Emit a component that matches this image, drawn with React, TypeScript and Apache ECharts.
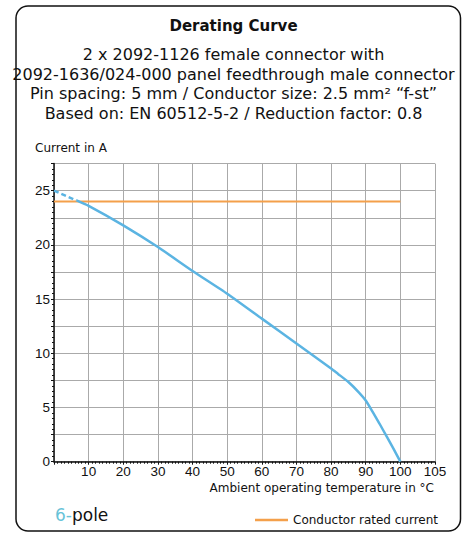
import React, { useEffect, useRef } from "react";
import * as echarts from "echarts";

const titleText = "Derating Curve";
const subtitleLines = [
  "2 x 2092-1126 female connector with",
  "2092-1636/024-000 panel feedthrough male connector",
  "Pin spacing: 5 mm / Conductor size: 2.5 mm² “f-st”",
  "Based on: EN 60512-5-2 / Reduction factor: 0.8",
];
const yAxisName = "Current in A";
const xAxisName = "Ambient operating temperature in °C";
const ratedName = "Conductor rated current";
const poleCount = "6";
// last x tick sits one full interval after 100 but is labelled 105
const xLastTickPos = 110;
const xLastTickLabel = "105";

const ratedCurrent: [number, number][] = [
  [0, 24],
  [100, 24],
];
const curveDashed: [number, number][] = [
  [0, 25],
  [6.5, 24.1],
];
const curveSolid: [number, number][] = [
  [6.5, 24.1],
  [10, 23.6],
  [20, 21.8],
  [30, 19.8],
  [40, 17.6],
  [50, 15.5],
  [60, 13.2],
  [70, 10.9],
  [80, 8.6],
  [82, 8.1],
  [85, 7.35],
  [88, 6.4],
  [90, 5.65],
  [92, 4.6],
  [94, 3.5],
  [96, 2.35],
  [98, 1.2],
  [100, 0],
];

const FONT = "DejaVu Sans";
const TICK_FONT = "Liberation Sans";
const BLUE = "#5BB4E2";
const ORANGE = "#F4A04B";

export default function App() {
  const ref = useRef<HTMLDivElement>(null);
  useEffect(() => {
    document.body.style.margin = "0";
    const chart = echarts.init(ref.current!, null, { renderer: "svg" });
    chart.setOption({
      animation: false,
      backgroundColor: "#fff",
      title: {
        text: titleText,
        subtext: subtitleLines.join("\n"),
        left: "center",
        top: 13.5,
        itemGap: 11,
        textStyle: { fontFamily: FONT, fontSize: 15, fontWeight: "bold", color: "#111" },
        subtextStyle: { fontFamily: FONT, fontSize: 16, color: "#111", lineHeight: 19.7, align: "center" },
      },
      grid: { left: 54, right: 32, top: 163.6, bottom: 71.3, containLabel: false },
      legend: {
        data: [{ name: ratedName, icon: "rect" }],
        left: 250,
        top: 509,
        itemWidth: 33,
        itemHeight: 2.5,
        itemGap: 6,
        textStyle: { fontFamily: FONT, fontSize: 12, color: "#111" },
      },
      xAxis: {
        type: "value",
        min: 0,
        max: xLastTickPos,
        interval: 10,
        axisLine: { show: true, lineStyle: { color: "#111", width: 1.5 } },
        axisTick: { show: true, length: 3, lineStyle: { color: "#111" } },
        minorTick: { show: true, splitNumber: 10, length: 2, lineStyle: { color: "#111" } },
        axisLabel: {
          fontFamily: TICK_FONT,
          fontSize: 13.5,
          color: "#111",
          margin: 3,
          formatter: (v: number) => (v === 0 ? "" : v === xLastTickPos ? xLastTickLabel : String(v)),
        },
        splitLine: { show: true, lineStyle: { color: "#aaa", width: 1 } },
      },
      yAxis: {
        type: "value",
        min: 0,
        max: 27.5,
        interval: 2.5,
        axisLine: { show: true, lineStyle: { color: "#111", width: 1.5 } },
        axisTick: { show: true, length: 3, lineStyle: { color: "#111" } },
        minorTick: { show: true, splitNumber: 5, length: 2, lineStyle: { color: "#111" } },
        axisLabel: {
          fontFamily: TICK_FONT,
          fontSize: 13.5,
          color: "#111",
          margin: 4,
          formatter: (v: number) => (v % 5 === 0 ? String(v) : ""),
        },
        splitLine: { show: true, lineStyle: { color: "#aaa", width: 1 } },
      },
      graphic: [
        {
          type: "rect",
          shape: { x: 16, y: 6, width: 444.5, height: 525, r: 12 },
          style: { fill: "none", stroke: "#111", lineWidth: 1.5 },
          z: -1,
        },
        {
          type: "text",
          x: 35,
          y: 148,
          style: { text: yAxisName, fontFamily: FONT, fontSize: 12, fill: "#111", textAlign: "left", textVerticalAlign: "middle" },
        },
        {
          type: "text",
          x: 434,
          y: 488,
          style: { text: xAxisName, fontFamily: FONT, fontSize: 12, fill: "#111", textAlign: "right", textVerticalAlign: "middle" },
        },
        {
          type: "text",
          x: 55,
          y: 515,
          style: {
            text: "{a|" + poleCount + "-}{b|pole}",
            textVerticalAlign: "middle",
            rich: {
              a: { fontFamily: FONT, fontSize: 17, fill: "#69C3D8", color: "#69C3D8" },
              b: { fontFamily: FONT, fontSize: 17, fill: "#111", color: "#111" },
            },
          },
        },
      ],
      series: [
        {
          name: ratedName,
          type: "line",
          data: ratedCurrent,
          symbol: "none",
          lineStyle: { color: ORANGE, width: 2 },
          itemStyle: { color: ORANGE },
          z: 3,
        },
        {
          name: "curve-dashed",
          type: "line",
          data: curveDashed,
          symbol: "none",
          lineStyle: { color: BLUE, width: 2.5, type: [5, 3] },
          z: 4,
        },
        {
          name: "curve",
          type: "line",
          data: curveSolid,
          symbol: "none",
          smooth: 0.2,
          lineStyle: { color: BLUE, width: 2.5 },
          z: 4,
        },
      ],
    });
    return () => chart.dispose();
  }, []);
  return <div ref={ref} style={{ width: 467, height: 533 }} />;
}
